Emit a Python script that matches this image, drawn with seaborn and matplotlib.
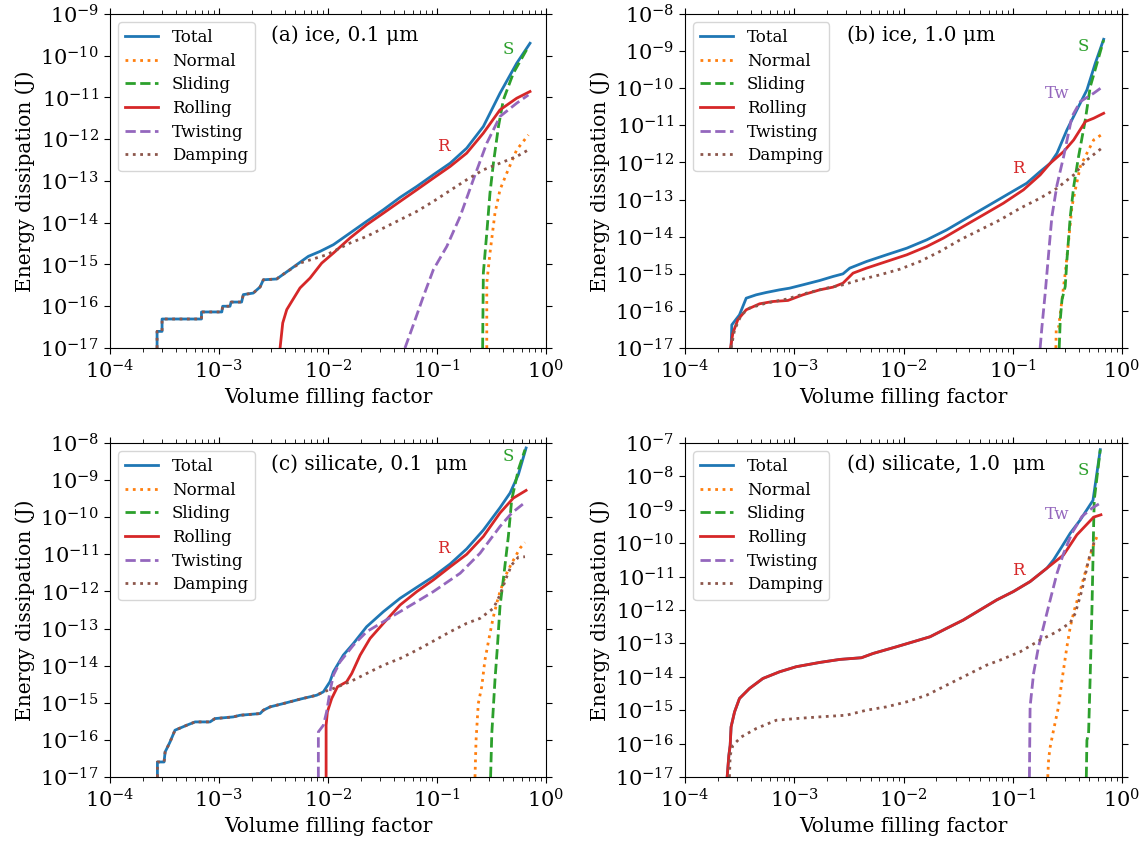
import matplotlib
matplotlib.use("Agg")
import matplotlib.pyplot as plt
import seaborn as sns
from matplotlib.ticker import LogLocator, NullLocator

# ---------------- panel (a): ice, 0.1 um ----------------
a_total_x = [2.7e-4, 2.7e-4, 3.0e-4, 3.0e-4, 6.9e-4, 6.9e-4, 1.06e-3, 1.08e-3, 1.26e-3, 1.29e-3,
             1.61e-3, 1.67e-3, 2.06e-3, 2.38e-3, 2.55e-3, 3.38e-3, 4.04e-3, 5.16e-3, 6.6e-3, 8.45e-3,
             1.12e-2, 1.59e-2, 2.26e-2, 3.22e-2, 4.58e-2, 6.52e-2, 9.25e-2, 0.132, 0.187, 0.266,
             0.378, 0.538, 0.713]
a_total_y = [1e-17, 2.5e-17, 2.5e-17, 4.95e-17, 4.95e-17, 7.3e-17, 7.3e-17, 1.0e-16, 1.0e-16, 1.26e-16,
             1.26e-16, 1.9e-16, 2.07e-16, 2.9e-16, 4.3e-16, 4.5e-16, 6.25e-16, 9.9e-16, 1.57e-15, 2.06e-15,
             2.98e-15, 5.66e-15, 1.08e-14, 2.05e-14, 4.04e-14, 7.4e-14, 1.41e-13, 2.67e-13, 6.1e-13, 2.02e-12,
             1.26e-11, 6.6e-11, 1.99e-10]
a_norm_x = [0.286, 0.286, 0.306, 0.340, 0.378, 0.436, 0.538, 0.689]
a_norm_y = [1e-17, 3.6e-16, 1.88e-15, 1.70e-14, 6.15e-14, 1.54e-13, 5.57e-13, 1.27e-12]
a_slide_x = [0.262, 0.266, 0.286, 0.306, 0.329, 0.366, 0.406, 0.501, 0.689]
a_slide_y = [1e-17, 6.25e-16, 5.66e-15, 5.13e-14, 2.67e-13, 2.02e-12, 8.77e-12, 3.81e-11, 1.66e-10]
a_roll_x = [3.63e-3, 3.84e-3, 4.18e-3, 4.65e-3, 5.53e-3, 6.84e-3, 8.75e-3, 1.12e-2, 1.59e-2, 2.26e-2,
            3.22e-2, 4.58e-2, 6.52e-2, 9.25e-2, 0.132, 0.187, 0.266, 0.378, 0.538, 0.713]
a_roll_y = [1e-17, 3.98e-17, 8.3e-17, 1.31e-16, 2.74e-16, 4.74e-16, 1.08e-15, 1.88e-15, 4.3e-15, 8.95e-15,
            1.70e-14, 3.24e-14, 6.15e-14, 1.17e-13, 2.23e-13, 4.64e-13, 1.40e-12, 5.05e-12, 9.6e-12, 1.39e-11]
a_twist_x = [5.08e-2, 6.07e-2, 7.5e-2, 9.25e-2, 0.123, 0.163, 0.215, 0.286, 0.378, 0.538, 0.689]
a_twist_y = [1e-17, 3.63e-17, 1.73e-16, 7.5e-16, 2.72e-15, 1.42e-14, 1.07e-13, 8.05e-13, 3.5e-12, 7.3e-12, 1.15e-11]
a_damp_x = [2.7e-4, 2.7e-4, 3.0e-4, 3.0e-4, 6.9e-4, 6.9e-4, 1.06e-3, 1.08e-3, 1.26e-3, 1.29e-3,
            1.61e-3, 1.67e-3, 2.06e-3, 2.38e-3, 2.55e-3, 3.38e-3, 3.63e-3, 5.53e-3, 9.7e-3, 1.59e-2,
            2.26e-2, 3.22e-2, 4.58e-2, 6.52e-2, 9.25e-2, 0.132, 0.187, 0.266, 0.378, 0.538, 0.689]
a_damp_y = [1e-17, 2.5e-17, 2.5e-17, 4.95e-17, 4.95e-17, 7.3e-17, 7.3e-17, 1.0e-16, 1.0e-16, 1.26e-16,
            1.26e-16, 1.9e-16, 2.07e-16, 2.9e-16, 4.3e-16, 4.5e-16, 5.2e-16, 1.08e-15, 1.71e-15, 3.26e-15,
            4.7e-15, 7.45e-15, 1.18e-14, 1.87e-14, 3.24e-14, 5.94e-14, 1.07e-13, 1.85e-13, 2.67e-13, 3.86e-13,
            5.57e-13]

# ---------------- panel (b): ice, 1.0 um ----------------
b_total_x = [2.64e-4, 2.68e-4, 3.15e-4, 3.63e-4, 4.48e-4, 5.53e-4, 7.33e-4, 9.05e-4, 1.20e-3, 1.71e-3,
             2.26e-3, 2.79e-3, 3.22e-3, 4.58e-3, 6.98e-3, 1.07e-2, 1.63e-2, 2.48e-2, 3.78e-2, 5.77e-2,
             8.81e-2, 0.134, 0.178, 0.220, 0.254, 0.313, 0.386, 0.477, 0.569, 0.679]
b_total_y = [1e-17, 4.2e-17, 7.8e-17, 2.2e-16, 2.71e-16, 3.13e-16, 3.69e-16, 4.09e-16, 5.04e-16, 6.59e-16,
             8.44e-16, 9.95e-16, 1.42e-15, 2.14e-15, 3.24e-15, 4.89e-15, 8.2e-15, 1.52e-14, 3.14e-14, 6.47e-14,
             1.34e-13, 2.75e-13, 5.68e-13, 9.5e-13, 1.77e-12, 7.52e-12, 2.6e-11, 8.98e-11, 4.69e-10, 2.08e-9]
b_norm_x = [0.248, 0.250, 0.262, 0.282, 0.302, 0.325, 0.348, 0.373, 0.415, 0.477, 0.550, 0.679]
b_norm_y = [1e-17, 3.43e-17, 3.43e-17, 1.99e-16, 1.04e-15, 8.2e-15, 6.47e-14, 1.82e-13, 7.74e-13, 1.77e-12,
            4.04e-12, 6.11e-12]
b_slide_x = [0.266, 0.272, 0.282, 0.302, 0.313, 0.336, 0.361, 0.400, 0.461, 0.512, 0.590, 0.679]
b_slide_y = [1e-17, 5.74e-17, 1.99e-16, 4.54e-16, 2.37e-15, 3.48e-14, 2.24e-13, 1.44e-12, 1.4e-11, 1.1e-10,
             4.69e-10, 2.0e-9]
b_roll_x = [2.61e-4, 2.74e-4, 3.04e-4, 3.63e-4, 4.81e-4, 6.37e-4, 8.75e-4, 1.20e-3, 1.71e-3, 2.26e-3,
            2.79e-3, 3.45e-3, 4.58e-3, 6.98e-3, 1.07e-2, 1.63e-2, 2.31e-2, 3.52e-2, 5.38e-2, 8.2e-2,
            0.125, 0.178, 0.220, 0.292, 0.361, 0.461, 0.550, 0.679]
b_roll_y = [1e-17, 2.51e-17, 5.74e-17, 1.07e-16, 1.55e-16, 1.79e-16, 1.91e-16, 2.71e-16, 3.69e-16, 4.36e-16,
            5.58e-16, 1.04e-15, 1.42e-15, 2.14e-15, 3.24e-15, 5.42e-15, 9.1e-15, 1.88e-14, 3.87e-14, 7.96e-14,
            1.82e-13, 4.61e-13, 9.5e-13, 1.96e-12, 4.04e-12, 1.26e-11, 1.55e-11, 2.11e-11]
b_twist_x = [0.178, 0.185, 0.198, 0.213, 0.228, 0.254, 0.292, 0.348, 0.415, 0.550, 0.679]
b_twist_y = [1e-17, 3.8e-17, 3.0e-16, 3.59e-15, 3.48e-14, 2.48e-13, 1.44e-12, 1.72e-11, 4.36e-11, 7.31e-11, 1.15e-10]
b_damp_x = [2.64e-4, 2.84e-4, 3.27e-4, 3.89e-4, 5.53e-4, 8.45e-4, 1.29e-3, 1.97e-3, 2.79e-3, 3.97e-3,
            6.07e-3, 9.25e-3, 1.41e-2, 2.15e-2, 3.29e-2, 5.01e-2, 7.65e-2, 0.117, 0.178, 0.254,
            0.361, 0.477, 0.679]
b_damp_y = [1e-17, 3.09e-17, 7.8e-17, 1.19e-16, 1.62e-16, 2.07e-16, 3.0e-16, 4.09e-16, 5.04e-16, 6.87e-16,
            9.35e-16, 1.33e-15, 2.14e-15, 3.98e-15, 8.2e-15, 1.52e-14, 2.83e-14, 5.85e-14, 1.09e-13, 2.02e-13,
            4.61e-13, 1.17e-12, 2.67e-12]

# ---------------- panel (c): silicate, 0.1 um ----------------
c_total_x = [2.72e-4, 2.72e-4, 3.13e-4, 3.2e-4, 3.43e-4, 3.55e-4, 3.94e-4, 5.05e-4, 6.03e-4, 8.26e-4,
             9.18e-4, 1.35e-3, 1.56e-3, 2.38e-3, 2.55e-3, 2.94e-3, 3.89e-3, 5.53e-3, 7.87e-3, 9.06e-3,
             1.04e-2, 1.12e-2, 1.38e-2, 1.71e-2, 2.26e-2, 3.22e-2, 4.58e-2, 6.52e-2, 9.25e-2, 0.132,
             0.187, 0.266, 0.378, 0.468, 0.557, 0.656]
c_total_y = [1e-17, 2.54e-17, 2.54e-17, 4.72e-17, 7.14e-17, 8.79e-17, 1.82e-16, 2.48e-16, 3.05e-16, 3.05e-16,
             3.75e-16, 4.16e-16, 4.61e-16, 5.12e-16, 6.3e-16, 7.75e-16, 9.53e-16, 1.25e-15, 1.6e-15, 1.97e-15,
             3.67e-15, 6.83e-15, 1.92e-14, 3.97e-14, 1.12e-13, 2.85e-13, 6.53e-13, 1.29e-12, 2.51e-12, 5.5e-12,
             1.4e-11, 4.5e-11, 1.8e-10, 4.5e-10, 1.4e-9, 7.33e-9]
c_norm_x = [0.223, 0.228, 0.239, 0.257, 0.275, 0.306, 0.329, 0.366, 0.421, 0.484, 0.577, 0.641]
c_norm_y = [1e-17, 9.75e-17, 9.53e-16, 2.69e-15, 1.41e-14, 7.4e-14, 2.09e-13, 7.24e-13, 2.51e-12, 5.75e-12,
            1.46e-11, 2.08e-11]
c_slide_x = [0.310, 0.318, 0.340, 0.358, 0.378, 0.412, 0.451, 0.484, 0.557, 0.641]
c_slide_y = [1e-17, 1.48e-16, 4.07e-15, 3.23e-14, 3.89e-13, 3.09e-12, 3.02e-11, 2.95e-10, 1.9e-9, 6.6e-9]
c_roll_x = [9.6e-3, 9.6e-3, 9.86e-3, 1.08e-2, 1.22e-2, 1.48e-2, 1.65e-2, 1.97e-2, 2.43e-2, 3.22e-2,
            4.58e-2, 6.52e-2, 9.25e-2, 0.132, 0.187, 0.266, 0.378, 0.501, 0.656]
c_roll_y = [1e-17, 2.48e-16, 5.68e-16, 1.3e-15, 2.69e-15, 3.67e-15, 6.15e-15, 1.92e-14, 5.42e-14, 1.38e-13,
            4.31e-13, 9.88e-13, 2.04e-12, 4.6e-12, 1.0e-11, 3.02e-11, 1.3e-10, 3.27e-10, 5.27e-10]
c_twist_x = [8.15e-3, 8.15e-3, 9.06e-3, 9.7e-3, 1.04e-2, 1.12e-2, 1.29e-2, 1.71e-2, 2.26e-2, 3.22e-2,
             4.58e-2, 6.52e-2, 9.25e-2, 0.163, 0.248, 0.378, 0.484, 0.641]
c_twist_y = [1e-17, 1.64e-16, 2.48e-16, 5.68e-16, 1.97e-15, 5.55e-15, 1.27e-14, 3.58e-14, 8.2e-14, 1.53e-13,
             2.85e-13, 5.3e-13, 9.88e-13, 3.09e-12, 1.07e-11, 5.62e-11, 1.29e-10, 2.5e-10]
c_damp_x = [2.72e-4, 2.72e-4, 3.13e-4, 3.2e-4, 3.43e-4, 3.55e-4, 3.94e-4, 5.05e-4, 6.03e-4, 8.26e-4,
            9.18e-4, 1.35e-3, 1.56e-3, 2.38e-3, 2.55e-3, 2.94e-3, 3.89e-3, 5.53e-3, 7.87e-3, 9.06e-3,
            1.12e-2, 1.59e-2, 2.26e-2, 3.22e-2, 4.58e-2, 6.52e-2, 9.25e-2, 0.132, 0.187, 0.248,
            0.329, 0.378, 0.436, 0.484, 0.557, 0.641]
c_damp_y = [1e-17, 2.54e-17, 2.54e-17, 4.72e-17, 7.14e-17, 8.79e-17, 1.82e-16, 2.48e-16, 3.05e-16, 3.05e-16,
            3.75e-16, 4.16e-16, 4.61e-16, 5.12e-16, 6.3e-16, 7.75e-16, 9.53e-16, 1.25e-15, 1.6e-15, 1.97e-15,
            2.42e-15, 3.67e-15, 6.15e-15, 1.03e-14, 1.56e-14, 2.62e-14, 4.59e-14, 8.2e-14, 1.38e-13, 1.88e-13,
            3.51e-13, 8.03e-13, 2.51e-12, 5.19e-12, 8.35e-12, 8.6e-12]

# ---------------- panel (d): silicate, 1.0 um ----------------
d_total_x = [2.43e-4, 2.52e-4, 2.59e-4, 2.64e-4, 2.84e-4, 3.15e-4, 3.89e-4, 5.16e-4, 7.33e-4, 1.04e-3,
             1.71e-3, 2.61e-3, 4.12e-3, 5.27e-3, 8.63e-3, 1.23e-2, 1.75e-2, 2.48e-2, 3.52e-2, 5.01e-2,
             7.13e-2, 0.101, 0.144, 0.205, 0.236, 0.282, 0.336, 0.415, 0.542, 0.632]
d_total_y = [1e-17, 4.47e-17, 8.9e-17, 3.16e-16, 8.9e-16, 2.24e-15, 4.47e-15, 8.9e-15, 1.41e-14, 2.0e-14,
             2.69e-14, 3.31e-14, 3.72e-14, 5.0e-14, 7.94e-14, 1.12e-13, 1.58e-13, 2.82e-13, 5.0e-13, 1.0e-12,
             2.0e-12, 3.55e-12, 7.08e-12, 1.78e-11, 3.16e-11, 7.94e-11, 2.0e-10, 5.0e-10, 1.91e-9, 6.31e-8]
d_norm_x = [0.209, 0.213, 0.220, 0.236, 0.262, 0.282, 0.313, 0.336, 0.366, 0.415, 0.477, 0.542, 0.590]
d_norm_y = [1e-17, 3.55e-17, 7.94e-17, 2.51e-16, 1.26e-15, 7.94e-15, 7.94e-14, 3.16e-13, 1.0e-12, 3.98e-12,
            2.0e-11, 7.94e-11, 1.58e-10]
d_slide_x = [0.471, 0.477, 0.494, 0.512, 0.531, 0.542, 0.550, 0.557, 0.632]
d_slide_y = [1e-17, 1.26e-16, 2.0e-16, 1.26e-14, 1.26e-12, 3.16e-11, 3.98e-10, 2.0e-9, 6.31e-8]
d_roll_x = [2.43e-4, 2.52e-4, 2.59e-4, 2.64e-4, 2.84e-4, 3.15e-4, 3.89e-4, 5.16e-4, 7.33e-4, 1.04e-3,
            1.71e-3, 2.61e-3, 4.12e-3, 5.27e-3, 8.63e-3, 1.23e-2, 1.75e-2, 2.48e-2, 3.52e-2, 5.01e-2,
            7.13e-2, 0.101, 0.144, 0.205, 0.292, 0.386, 0.550, 0.641]
d_roll_y = [1e-17, 4.47e-17, 8.9e-17, 3.16e-16, 8.9e-16, 2.24e-15, 4.47e-15, 8.9e-15, 1.41e-14, 2.0e-14,
            2.69e-14, 3.31e-14, 3.72e-14, 5.0e-14, 7.94e-14, 1.12e-13, 1.58e-13, 2.82e-13, 5.0e-13, 1.0e-12,
            2.0e-12, 3.55e-12, 7.08e-12, 1.78e-11, 4.47e-11, 1.78e-10, 6.03e-10, 7.08e-10]
d_twist_x = [0.142, 0.144, 0.155, 0.172, 0.191, 0.220, 0.254, 0.292, 0.348, 0.430, 0.531, 0.632]
d_twist_y = [1e-17, 1.26e-15, 1.26e-14, 7.94e-14, 3.16e-13, 2.0e-12, 1.26e-11, 5.0e-11, 2.0e-10, 6.31e-10,
             1.12e-9, 1.58e-9]
d_damp_x = [2.55e-4, 2.59e-4, 2.74e-4, 3.27e-4, 4.48e-4, 6.84e-4, 1.04e-3, 1.71e-3, 3.0e-3, 4.58e-3,
            6.98e-3, 1.07e-2, 1.63e-2, 2.48e-2, 3.78e-2, 5.77e-2, 7.65e-2, 0.117, 0.178, 0.254,
            0.336, 0.373, 0.430, 0.494, 0.569]
d_damp_y = [1e-17, 4.47e-17, 8.9e-17, 1.58e-16, 2.82e-16, 5.0e-16, 5.62e-16, 6.31e-16, 7.08e-16, 1.0e-15,
            1.26e-15, 1.78e-15, 2.82e-15, 5.62e-15, 1.12e-14, 2.24e-14, 3.16e-14, 5.62e-14, 1.26e-13, 2.24e-13,
            4.17e-13, 7.94e-13, 3.98e-12, 3.16e-11, 1.41e-10]

panel_titles = ["(a) ice, 0.1 μm", "(b) ice, 1.0 μm", "(c) silicate, 0.1  μm", "(d) silicate, 1.0  μm"]
panel_ytop = [1e-9, 1e-8, 1e-8, 1e-7]
series_names = ["Total", "Normal", "Sliding", "Rolling", "Twisting", "Damping"]

# curve-name annotations: (text, x, y, series index)
a_notes = [("S", 0.45, 1.38e-10, 2), ("R", 0.114, 6.7e-13, 3)]
b_notes = [("S", 0.445, 1.37e-9, 2), ("Tw", 0.254, 7.0e-11, 4), ("R", 0.113, 7.0e-13, 3)]
c_notes = [("S", 0.45, 4.2e-9, 2), ("R", 0.114, 1.4e-11, 3)]
d_notes = [("S", 0.445, 1.48e-8, 2), ("Tw", 0.254, 7.4e-10, 4), ("R", 0.113, 1.48e-11, 3)]

panels = [
    [(a_total_x, a_total_y), (a_norm_x, a_norm_y), (a_slide_x, a_slide_y),
     (a_roll_x, a_roll_y), (a_twist_x, a_twist_y), (a_damp_x, a_damp_y)],
    [(b_total_x, b_total_y), (b_norm_x, b_norm_y), (b_slide_x, b_slide_y),
     (b_roll_x, b_roll_y), (b_twist_x, b_twist_y), (b_damp_x, b_damp_y)],
    [(c_total_x, c_total_y), (c_norm_x, c_norm_y), (c_slide_x, c_slide_y),
     (c_roll_x, c_roll_y), (c_twist_x, c_twist_y), (c_damp_x, c_damp_y)],
    [(d_total_x, d_total_y), (d_norm_x, d_norm_y), (d_slide_x, d_slide_y),
     (d_roll_x, d_roll_y), (d_twist_x, d_twist_y), (d_damp_x, d_damp_y)],
]
notes = [a_notes, b_notes, c_notes, d_notes]

palette = sns.color_palette("tab10")
colors = [palette[0], palette[1], palette[2], palette[3], palette[4], palette[5]]
styles = ["-", ":", "--", "-", "--", ":"]

plt.rcParams["font.family"] = ["DejaVu Serif"]
plt.rcParams["mathtext.fontset"] = "dejavuserif"
plt.rcParams["xtick.major.size"] = 4.5
plt.rcParams["ytick.major.size"] = 4.5
plt.rcParams["xtick.minor.size"] = 3.0

fig = plt.figure(figsize=(11.44, 8.42), dpi=100)
rects = [
    [0.0962, 0.5867, 0.3811, 0.3967],
    [0.5988, 0.5867, 0.3820, 0.3967],
    [0.0962, 0.0772, 0.3811, 0.3967],
    [0.5988, 0.0772, 0.3820, 0.3967],
]

for k in range(4):
    ax = fig.add_axes(rects[k])
    ax.set_xscale("log")
    ax.set_yscale("log")
    for (xs, ys), name, col, ls in zip(panels[k], series_names, colors, styles):
        sns.lineplot(x=xs, y=ys, ax=ax, color=col, linestyle=ls, linewidth=2,
                     label=name, sort=False, estimator=None)
    ax.set_xlim(1e-4, 1.0)
    ax.set_ylim(1e-17, panel_ytop[k])
    ax.yaxis.set_major_locator(LogLocator(base=10, numticks=30))
    ax.yaxis.set_minor_locator(NullLocator())
    ax.xaxis.set_major_locator(LogLocator(base=10, numticks=30))
    ax.xaxis.set_minor_locator(LogLocator(base=10, subs=range(2, 10), numticks=30))
    ax.tick_params(which="both", top=True, right=True, labelsize=15)
    ax.set_xlabel("Volume filling factor", fontsize=14.5)
    ax.set_ylabel("Energy dissipation (J)", fontsize=14.5)
    ax.legend(loc="upper left", fontsize=12, labelspacing=0.4)
    ax.text(0.37, 0.937, panel_titles[k], transform=ax.transAxes, fontsize=14.5,
            ha="left", va="center")
    for txt, tx, ty, ci in notes[k]:
        ax.text(tx, ty, txt, color=colors[ci], fontsize=12, ha="center", va="center")

fig.savefig("out.png", dpi=100)
